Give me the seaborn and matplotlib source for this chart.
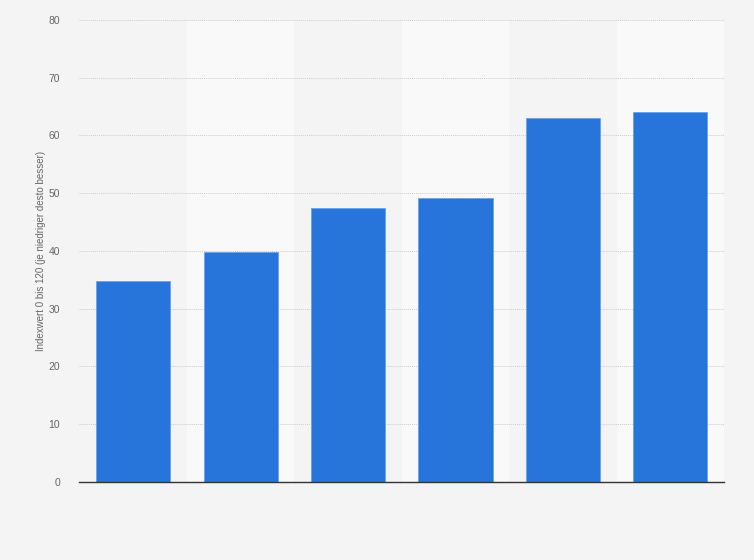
import numpy as np
import pandas as pd
import seaborn as sns
import matplotlib
matplotlib.use("Agg")
import matplotlib.pyplot as plt

# no category labels are shown on the reference, keep placeholders
categories = ["A", "B", "C", "D", "E", "F"]
values = [34.8, 39.8, 47.4, 49.1, 63.0, 64.1]
y_ticks = [0, 10, 20, 30, 40, 50, 60, 70, 80]
y_label = "Indexwert 0 bis 120 (je niedriger desto besser)"

df = pd.DataFrame({"cat": categories, "val": values})

sns.set_style("white")
plt.rcParams['font.family'] = ['Liberation Sans', 'DejaVu Sans']

fig = plt.figure(figsize=(7.54, 5.6), dpi=100, facecolor="#f4f4f4")
ax = fig.add_axes([0.1054, 0.1396, 0.855, 0.8247])
ax.set_facecolor("#f4f4f4")

# alternating column shading
for i in range(len(categories)):
    if i % 2 == 1:
        ax.axvspan(i - 0.5, i + 0.5, color="#f9f9f9", zorder=0, lw=0)

sns.barplot(data=df, x="cat", y="val", color="#2775db", width=0.69,
            saturation=1, edgecolor="#6aa1ea", linewidth=0.6, ax=ax, zorder=3)

ax.set_xlim(-0.5, len(categories) - 0.5)
ax.set_ylim(0, 80)
ax.set_yticks(y_ticks)
ax.set_yticklabels([str(t) for t in y_ticks], color="#666666", fontsize=7.5)
ax.set_xticks([])
ax.set_xlabel("")
ax.set_ylabel(y_label, fontsize=7, color="#666666", labelpad=2)
ax.tick_params(axis="y", length=0, pad=14)

ax.grid(axis="y", color="#cccccc", linestyle=(0, (1, 1)), linewidth=0.7, zorder=1)
ax.set_axisbelow(True)
for s in ["top", "right", "left"]:
    ax.spines[s].set_visible(False)
ax.spines["bottom"].set_color("#333333")
ax.spines["bottom"].set_linewidth(1.0)
ax.spines["bottom"].set_zorder(5)

fig.savefig("out.png", dpi=100, facecolor=fig.get_facecolor())
